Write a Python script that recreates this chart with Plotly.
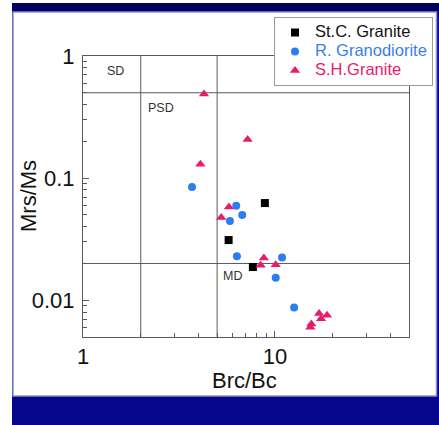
import numpy as np
import plotly.graph_objects as go

# ---- data ----
stc_x = [8.87, 5.74, 7.68]
stc_y = [0.0625, 0.0311, 0.0187]

rg_x = [3.70, 6.29, 5.83, 6.76, 6.34, 10.9, 10.1, 12.6]
rg_y = [0.0844, 0.0593, 0.0445, 0.0498, 0.0229, 0.0224, 0.0153, 0.0087]

sh_x = [4.27, 7.21, 4.09, 5.76, 5.25, 8.76, 8.43, 10.1, 17.0, 17.4, 18.7, 15.5, 15.3]
sh_y = [0.489, 0.207, 0.130, 0.0579, 0.0476, 0.0222, 0.0193, 0.0195, 0.00777, 0.00707, 0.00753, 0.0064, 0.0060]

series_names = ["St.C. Granite", "R. Granodiorite", "S.H.Granite"]

# domain boundaries (Day plot)
bc_lines = [2, 5]
mr_lines = [0.5, 0.02]
x_range = [1, 50]
y_range = [0.005, 1]

region_labels = ["SD", "PSD", "MD"]
region_x = [1.47, 2.55, 6.02]
region_y = [0.76, 0.376, 0.0157]

x_tickvals = [1, 10]
x_ticktext = ["1", "10"]
y_tickvals = [0.01, 0.1, 1]
y_ticktext = ["0.01", "0.1", "1"]
x_minor = [2, 3, 4, 5, 6, 7, 8, 9, 20, 30, 40]
y_minor = [0.006, 0.007, 0.008, 0.009, 0.02, 0.03, 0.04, 0.05, 0.06, 0.07, 0.08, 0.09,
           0.2, 0.3, 0.4, 0.5, 0.6, 0.7, 0.8, 0.9]

FONT = "Liberation Sans, Arial, sans-serif"
BLACK = "#000000"
BLUE = "#2c7df2"
PINK = "#ea1a6c"
LINE = "#5a5a5a"

fig = go.Figure()

# boundary lines
for xv in bc_lines:
    fig.add_trace(go.Scatter(x=[xv, xv], y=y_range, mode="lines",
                             line=dict(color=LINE, width=1), hoverinfo="skip", showlegend=False))
for yv in mr_lines:
    fig.add_trace(go.Scatter(x=x_range, y=[yv, yv], mode="lines",
                             line=dict(color=LINE, width=1), hoverinfo="skip", showlegend=False))

def lname(n, c):
    return f"<span style='color:{c};font-size:16.5px'>{n}</span>"

fig.add_trace(go.Scatter(x=stc_x, y=stc_y, mode="markers", name=lname(series_names[0], "#111111"),
                         marker=dict(symbol="square", size=8, color=BLACK)))
fig.add_trace(go.Scatter(x=rg_x, y=rg_y, mode="markers", name=lname(series_names[1], "#3a7fe8"),
                         marker=dict(symbol="circle", size=8, color=BLUE)))
fig.add_trace(go.Scatter(x=sh_x, y=sh_y, mode="markers", name=lname(series_names[2], PINK),
                         marker=dict(symbol="triangle-up", size=9, color=PINK)))

W, H = 439, 425
L, R, T, B = 83, 30, 56, 88
pw, ph = W - L - R, H - T - B

def px_x(p):
    return (p - L) / pw

def px_y(p):
    return (H - B - p) / ph

shapes = [
    # top darker band
    dict(type="rect", xref="paper", yref="paper", x0=px_x(0), x1=px_x(W), y0=px_y(14), y1=px_y(0),
         fillcolor="#00005f", line=dict(width=0), layer="below"),
    # thin white top edge
    dict(type="rect", xref="paper", yref="paper", x0=px_x(0), x1=px_x(W), y0=px_y(3), y1=px_y(0),
         fillcolor="#ffffff", line=dict(width=0), layer="below"),
    # white panel
    dict(type="rect", xref="paper", yref="paper", x0=px_x(13), x1=px_x(436.5), y0=px_y(396), y1=px_y(12),
         fillcolor="#ffffff", line=dict(color="#8f8fcf", width=1.5), layer="below"),
    # left white strip
    dict(type="rect", xref="paper", yref="paper", x0=px_x(0), x1=px_x(12), y0=px_y(H), y1=px_y(0),
         fillcolor="#ffffff", line=dict(width=0), layer="below"),
]

annotations = []
for t, xv, yv in zip(region_labels, region_x, region_y):
    annotations.append(dict(x=np.log10(xv), y=np.log10(yv), xref="x", yref="y", text=t,
                            showarrow=False, font=dict(family=FONT, size=12.5, color="#333333"),
                            xanchor="center", yanchor="middle"))
annotations.append(dict(x=px_x(244), y=px_y(380), xref="paper", yref="paper", text="Brc/Bc",
                        showarrow=False, font=dict(family=FONT, size=22, color="#111111"),
                        xanchor="center", yanchor="middle"))
annotations.append(dict(x=px_x(28.5), y=0.5, xref="paper", yref="paper", text="Mrs/Ms",
                        showarrow=False, textangle=-90, font=dict(family=FONT, size=22, color="#111111"),
                        xanchor="center", yanchor="middle"))

fig.update_layout(
    width=W, height=H,
    margin=dict(l=L, r=R, t=T, b=B, autoexpand=False),
    paper_bgcolor="#06068c",
    plot_bgcolor="#ffffff",
    shapes=shapes,
    annotations=annotations,
    showlegend=True,
    legend=dict(x=px_x(274), y=px_y(17), xanchor="left", yanchor="top",
                bgcolor="#ffffff", bordercolor="#9a9a9a", borderwidth=1,
                font=dict(family=FONT, size=12, color="#111111"),
                itemclick=False, tracegroupgap=0),
    font=dict(family=FONT),
)

fig.update_xaxes(type="log", range=[np.log10(x_range[0]), np.log10(x_range[1])],
                 tickmode="array", tickvals=x_tickvals, ticktext=x_ticktext,
                 ticks="inside", ticklen=6, tickcolor=LINE, tickwidth=1,
                 minor=dict(ticks="inside", ticklen=4, tickcolor=LINE, tickvals=x_minor, showgrid=False),
                 showgrid=False, zeroline=False, showline=True, mirror=True,
                 linecolor=LINE, linewidth=1,
                 tickfont=dict(family=FONT, size=22, color="#111111"), ticklabelstandoff=0)
fig.update_yaxes(type="log", range=[np.log10(y_range[0]), np.log10(y_range[1])],
                 tickmode="array", tickvals=y_tickvals, ticktext=y_ticktext,
                 ticks="inside", ticklen=6, tickcolor=LINE, tickwidth=1,
                 minor=dict(ticks="inside", ticklen=4, tickcolor=LINE, tickvals=y_minor, showgrid=False),
                 showgrid=False, zeroline=False, showline=True, mirror=True,
                 linecolor=LINE, linewidth=1,
                 tickfont=dict(family=FONT, size=22, color="#111111"), ticklabelstandoff=3)

fig.write_html("out.html", config={"displayModeBar": False},
               post_script="document.body.style.margin='0';document.body.style.overflow='hidden';")
